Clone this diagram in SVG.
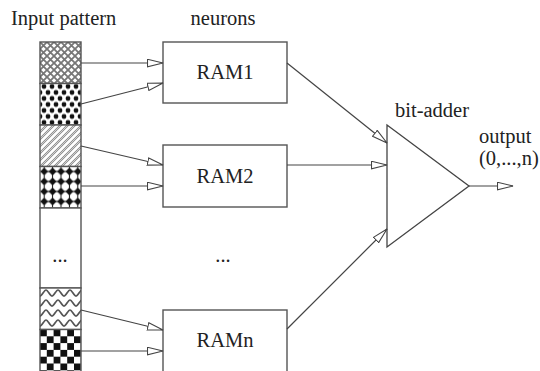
<svg xmlns="http://www.w3.org/2000/svg" width="540" height="371" viewBox="0 0 540 371">
  <style>
    text { font-family: "Liberation Serif", "Times New Roman", serif; font-size: 20.5px; fill: #222; }
    .box { fill: #fff; stroke: #555; stroke-width: 1.4; }
    .cell { stroke: #555; stroke-width: 1.4; }
    .wire { fill: none; stroke: #444; stroke-width: 1.2; }
  </style>
  <defs>
    <marker id="open-arrow" markerUnits="userSpaceOnUse" markerWidth="18" markerHeight="10" refX="16" refY="4.5" orient="auto">
      <path d="M0.5,0.8 L16,4.5 L0.5,8.2 Z" fill="#fff" stroke="#444" stroke-width="1.1"/>
    </marker>
    <!-- fine crosshatch -->
    <pattern id="p-cross" patternUnits="userSpaceOnUse" x="40" y="42" width="7" height="7">
      <rect width="7" height="7" fill="#fff"/>
      <path d="M0,0 L7,7 M7,0 L0,7" stroke="#777" stroke-width="1.8"/>
    </pattern>
    <!-- staggered dots -->
    <pattern id="p-dots" patternUnits="userSpaceOnUse" x="40" y="83.5" width="8" height="12">
      <rect width="8" height="12" fill="#fff"/>
      <circle cx="4" cy="3" r="2.4" fill="#111"/>
      <circle cx="0" cy="9" r="2.4" fill="#111"/>
      <circle cx="8" cy="9" r="2.4" fill="#111"/>
    </pattern>
    <!-- diagonal hatch -->
    <pattern id="p-hatch" patternUnits="userSpaceOnUse" x="40" y="125" width="7" height="7">
      <rect width="7" height="7" fill="#fff"/>
      <path d="M-1,8 L8,-1 M-1,1 L1,-1 M6,8 L8,6" stroke="#888" stroke-width="2.2"/>
      <path d="M-1,8 L8,-1" stroke="#eee" stroke-width="0.7"/>
    </pattern>
    <!-- diamond lattice -->
    <pattern id="p-diamond" patternUnits="userSpaceOnUse" x="40" y="166.5" width="8.4" height="10">
      <rect width="8.4" height="10" fill="#fff"/>
      <path d="M0,5 H8.4 M4.2,0 V10" stroke="#111" stroke-width="1"/>
      <path d="M4.2,1 L8.1,5 L4.2,9 L0.3,5 Z" fill="#111"/>
    </pattern>
    <!-- wavy lines -->
    <pattern id="p-wave" patternUnits="userSpaceOnUse" x="40" y="288" width="12" height="10">
      <rect width="12" height="10" fill="#fff"/>
      <path d="M0,8 C2,8 4,2 6,2 C8,2 10,8 12,8" fill="none" stroke="#555" stroke-width="1.7"/>
    </pattern>
    <!-- checkerboard -->
    <pattern id="p-check" patternUnits="userSpaceOnUse" x="40" y="329.5" width="13.6" height="13.6">
      <rect width="13.6" height="13.6" fill="#fff"/>
      <rect width="6.8" height="6.8" fill="#111"/>
      <rect x="6.8" y="6.8" width="6.8" height="6.8" fill="#111"/>
    </pattern>
  </defs>

  <!-- headings -->
  <text x="11" y="25">Input pattern</text>
  <text x="223" y="25" text-anchor="middle">neurons</text>
  <text x="395" y="117">bit-adder</text>
  <text x="479" y="143">output</text>
  <text x="479" y="165">(0,...,n)</text>

  <!-- input pattern column -->
  <g id="input-pattern">
    <rect class="cell" x="40" y="42" width="41" height="41.5" fill="url(#p-cross)"/>
    <rect class="cell" x="40" y="83.5" width="41" height="41.5" fill="url(#p-dots)"/>
    <rect class="cell" x="40" y="125" width="41" height="41.5" fill="url(#p-hatch)"/>
    <rect class="cell" x="40" y="166.5" width="41" height="41.5" fill="url(#p-diamond)"/>
    <rect class="cell" x="40" y="208" width="41" height="80" fill="#fff"/>
    <rect class="cell" x="40" y="288" width="41" height="41.5" fill="url(#p-wave)"/>
    <rect class="cell" x="40" y="329.5" width="41" height="43" fill="url(#p-check)"/>
    <text x="60" y="262" text-anchor="middle">...</text>
  </g>

  <!-- RAM neurons -->
  <g id="ram1">
    <rect class="box" x="163" y="42" width="124" height="61"/>
    <text x="225" y="79" text-anchor="middle">RAM1</text>
  </g>
  <g id="ram2">
    <rect class="box" x="163" y="145" width="124" height="62"/>
    <text x="225" y="183" text-anchor="middle">RAM2</text>
  </g>
  <g id="ram-gap">
    <text x="223" y="262" text-anchor="middle">...</text>
  </g>
  <g id="ramn">
    <rect class="box" x="163" y="310" width="124" height="64"/>
    <text x="225" y="347" text-anchor="middle">RAMn</text>
  </g>

  <!-- bit-adder -->
  <g id="bit-adder">
    <path d="M387,125 L469,186 L387,247 Z" fill="#fff" stroke="#444" stroke-width="1.3"/>
  </g>

  <!-- connectors -->
  <g id="connectors" class="wire" marker-end="url(#open-arrow)">
    <path d="M81,63 L163,63"/>
    <path d="M81,104 L163,83"/>
    <path d="M81,146 L163,165"/>
    <path d="M81,186 L163,186"/>
    <path d="M81,310 L163,330"/>
    <path d="M81,351 L163,351"/>
    <path d="M287,63 L387,143"/>
    <path d="M287,165 L387,165"/>
    <path d="M287,329 L387,229"/>
    <path d="M469,186 L513,186"/>
  </g>
</svg>
